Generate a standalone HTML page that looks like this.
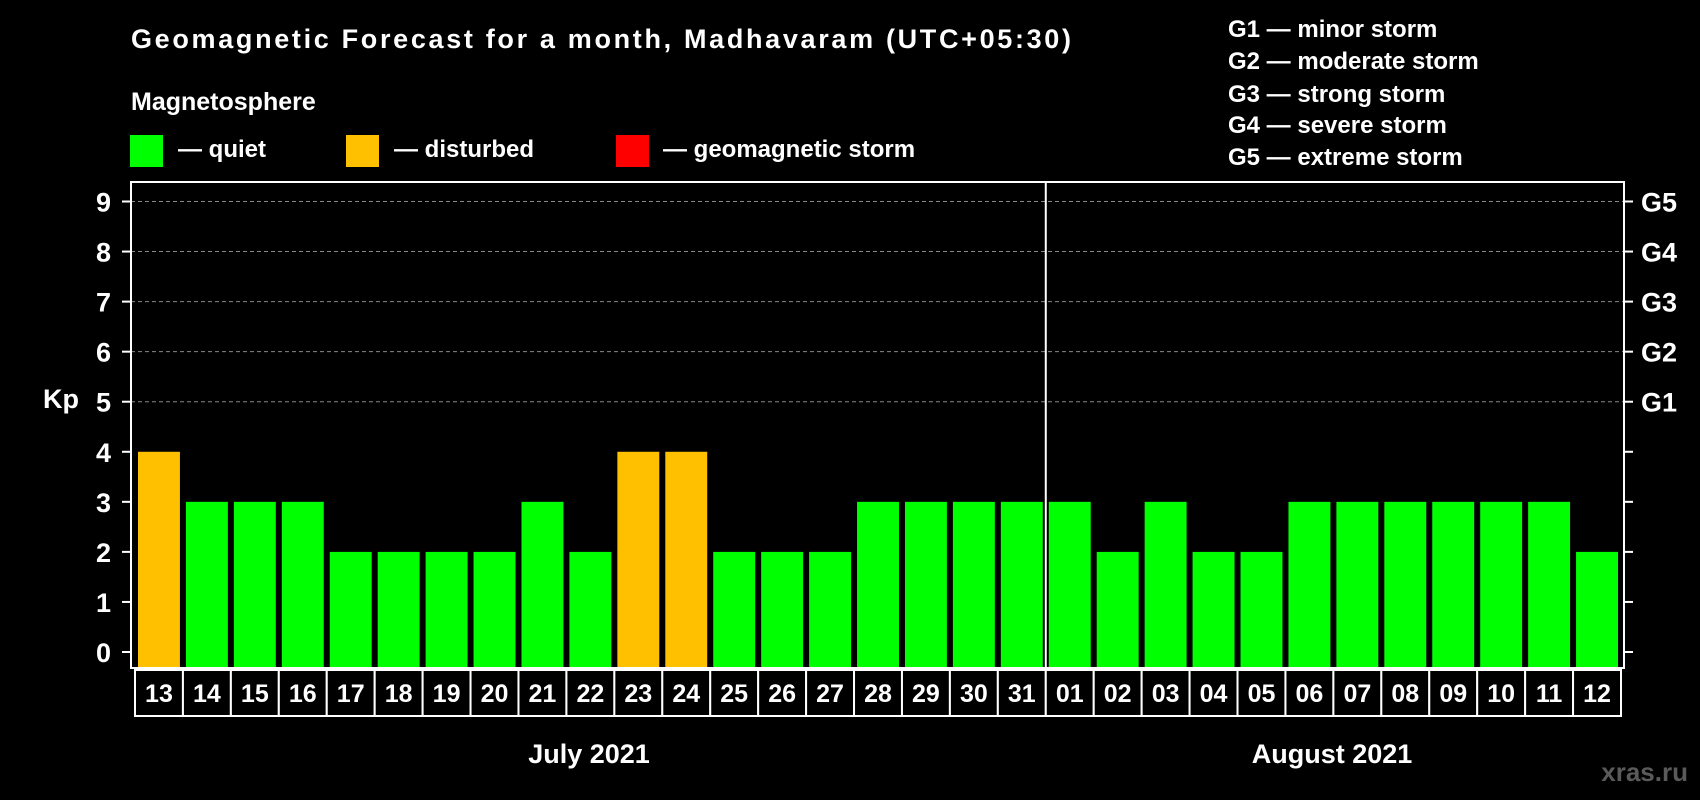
<!DOCTYPE html>
<html><head><meta charset="utf-8"><style>
html,body{margin:0;padding:0;background:#000;}
svg{display:block;font-family:"Liberation Sans",Arial,sans-serif;font-weight:bold;}
</style></head><body>
<svg id="chart" width="1700" height="800" viewBox="0 0 1700 800">
<rect x="0" y="0" width="1700" height="800" fill="#000"/>
<text x="131" y="48" fill="#fff" font-size="27" textLength="940">Geomagnetic Forecast for a month, Madhavaram (UTC+05:30)</text>
<text x="131" y="110" fill="#fff" font-size="25">Magnetosphere</text>
<g><rect x="130" y="135" width="33" height="32" fill="#00ff00"/><text x="178" y="157" fill="#fff" font-size="24">— quiet</text></g>
<g><rect x="346" y="135" width="33" height="32" fill="#ffc000"/><text x="394" y="157" fill="#fff" font-size="24">— disturbed</text></g>
<g><rect x="616" y="135" width="33" height="32" fill="#ff0000"/><text x="663" y="157" fill="#fff" font-size="24">— geomagnetic storm</text></g>
<g fill="#fff" font-size="24">
<text x="1228" y="37">G1 — minor storm</text>
<text x="1228" y="69">G2 — moderate storm</text>
<text x="1228" y="102">G3 — strong storm</text>
<text x="1228" y="133">G4 — severe storm</text>
<text x="1228" y="165">G5 — extreme storm</text>
</g>
<text x="43" y="408" fill="#fff" font-size="27">Kp</text>
<text x="589" y="763" fill="#fff" font-size="27" text-anchor="middle">July 2021</text>
<text x="1332" y="763" fill="#fff" font-size="27" text-anchor="middle">August 2021</text>
<text x="1688" y="781" fill="#5a5a5a" font-size="26" text-anchor="end">xras.ru</text>
<g id="grid"></g><g id="bars"></g><g id="xlabels"></g><g id="axes"></g>
</svg>
<script>
const days = ["13","14","15","16","17","18","19","20","21","22","23","24","25","26","27","28","29","30","31","01","02","03","04","05","06","07","08","09","10","11","12"];
const kpValues = [4,3,3,3,2,2,2,2,3,2,4,4,2,2,2,3,3,3,3,3,2,3,2,2,3,3,3,3,3,3,2];
const yTicks = [0,1,2,3,4,5,6,7,8,9];
const gLabels = ["","","","","","G1","G2","G3","G4","G5"];
const monthSplitIndex = 19;

const NS = "http://www.w3.org/2000/svg";
const plotL = 131, plotR = 1624, plotT = 182, plotB = 668;
const slotL = 135, slotR = 1621;
const y0 = 652, y9 = 201.5;
function yScale(v){ return y0 + (y9 - y0) * v / 9; }
const pitch = (slotR - slotL) / days.length;
function xScale(i){ return slotL + i * pitch; }
function mk(tag, attrs, parent){ const e = document.createElementNS(NS, tag); for (const k in attrs) e.setAttribute(k, attrs[k]); parent.appendChild(e); return e; }

const grid = document.getElementById('grid');
const axes = document.getElementById('axes');
yTicks.forEach((t, i) => {
  const y = yScale(t);
  if (t >= 5) {
    const gl = mk('line', {x1: plotL, x2: plotR, y1: y, y2: y, stroke: '#888', 'stroke-width': 1, 'stroke-dasharray': '4,3'}, grid);
    
    
  }
  mk('line', {x1: plotL - 9, x2: plotL, y1: y, y2: y, stroke: '#fff', 'stroke-width': 2}, axes);
  mk('line', {x1: plotR, x2: plotR + 9, y1: y, y2: y, stroke: '#fff', 'stroke-width': 2}, axes);
  const lt = mk('text', {x: 111, y: y + 10, fill: '#fff', 'font-size': 27, 'text-anchor': 'end'}, axes);
  lt.textContent = t;
  
  
  if (gLabels[i]) {
    const gt = mk('text', {x: 1641, y: y + 10, fill: '#fff', 'font-size': 27}, axes);
    gt.textContent = gLabels[i];
    
    
  }
});
const frame = mk('rect', {x: plotL, y: plotT, width: plotR - plotL, height: plotB - plotT, fill: 'none', stroke: '#fff', 'stroke-width': 2}, axes);


const divX = xScale(monthSplitIndex);
const div = mk('line', {x1: divX, x2: divX, y1: plotT, y2: plotB, stroke: '#fff', 'stroke-width': 2}, axes);



const bars = document.getElementById('bars');
const xl = document.getElementById('xlabels');
kpValues.forEach((v, i) => {
  const x = xScale(i);
  const color = v >= 5 ? '#ff0000' : (v >= 4 ? '#ffc000' : '#00ff00');
  const b = mk('rect', {x: x + 3, y: yScale(v), width: pitch - 6, height: plotB - 1 - yScale(v), fill: color}, bars);
  
  
  const box = mk('rect', {x: x, y: 670, width: pitch, height: 46, fill: '#000', stroke: '#fff', 'stroke-width': 2}, xl);
  
  
  const t = mk('text', {x: x + pitch / 2, y: 702, fill: '#fff', 'font-size': 25, 'text-anchor': 'middle'}, xl);
  t.textContent = days[i];
  
  
});
</script>
</body></html>
